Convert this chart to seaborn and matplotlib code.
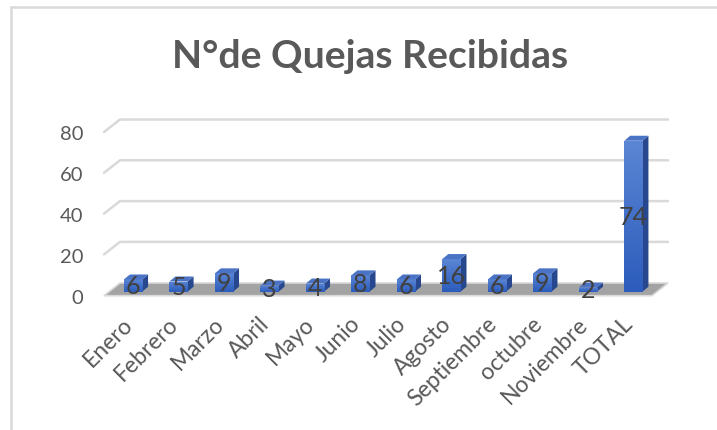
import numpy as np
import pandas as pd
import matplotlib
matplotlib.use("Agg")
import matplotlib.pyplot as plt
import matplotlib.transforms as mtransforms
from matplotlib.patches import Polygon
from matplotlib.lines import Line2D
import seaborn as sns

# ---- data ----
months = ["Enero", "Febrero", "Marzo", "Abril", "Mayo", "Junio", "Julio",
          "Agosto", "Septiembre", "octubre", "Noviembre", "TOTAL"]
quejas = [6, 5, 9, 3, 4, 8, 6, 16, 6, 9, 2, 74]
yticks = [0, 20, 40, 60, 80]
title = "N°de Quejas Recibidas"

sns.set_theme(style="white")
plt.rcParams["font.family"] = ["Lato", "DejaVu Sans"]

W, H = 717, 431
fig = plt.figure(figsize=(W / 100, H / 100), dpi=100)
fig.patch.set_facecolor("white")

# chart border (top and left visible)
fig.add_artist(Line2D([11 / W, 11 / W], [0, 1 - 8 / H], color="#d9d9d9", lw=1.8, transform=fig.transFigure))
fig.add_artist(Line2D([11 / W, 1], [1 - 8 / H, 1 - 8 / H], color="#d9d9d9", lw=1.8, transform=fig.transFigure))

ax_left, ax_right = 104, 652
ax_bottom, ax_top = 292.7, 129.5
ax = fig.add_axes([ax_left / W, (H - ax_bottom) / H, (ax_right - ax_left) / W, (ax_bottom - ax_top) / H])

df = pd.DataFrame({"mes": months, "quejas": quejas})
sns.barplot(data=df, x="mes", y="quejas", color="#3a66c4", saturation=1,
            width=0.4, ax=ax, zorder=5)
ax.set_xlim(-0.637, 11.41)
ax.set_ylim(0, 80)
for s in ax.spines.values():
    s.set_visible(False)
ax.set_xlabel("")
ax.set_ylabel("")
fig.canvas.draw()


def px2data(x, y, dx, dy):
    p = ax.transData.transform((x, y)) + np.array([dx, dy])
    return ax.transData.inverted().transform(p)


x0, x1 = ax.get_xlim()

# floor
floor = [px2data(x0, 0, 0, -4), px2data(x1, 0, 0, -4),
         px2data(x1, 0, 16, 8.7), px2data(x0, 0, 16, 8.7)]
ax.add_patch(Polygon(floor, closed=True, facecolor="#a3a3a3", edgecolor="#d9d9d9",
                     lw=1.2, zorder=1, clip_on=False))

# gridlines with perspective
for v in yticks[1:]:
    pts = [px2data(x0, v, 0, -3.5), px2data(x0, v, 16, 9), px2data(x1, v, 16, 9)]
    xs, ys = zip(*pts)
    ax.add_line(Line2D(xs, ys, color="#d9d9d9", lw=1.8, zorder=0, clip_on=False))

# 3D bars: gradient front face, top and side faces
grad = np.linspace(0, 1, 100).reshape(-1, 1)
cmap = matplotlib.colors.LinearSegmentedColormap.from_list("b", ["#2c5cbc", "#5b86d4"])
for patch, val in zip(ax.patches, quejas):
    bx, bw, bh = patch.get_x(), patch.get_width(), patch.get_height()
    patch.set_edgecolor("none")
    im = ax.imshow(grad, cmap=cmap, origin="lower", aspect="auto",
                   extent=(bx, bx + bw, 0, bh), zorder=6)
    im.set_clip_path(patch)
    top = [(bx, bh), (bx + bw, bh), px2data(bx + bw, bh, 6, 5), px2data(bx, bh, 6, 5)]
    side = [(bx + bw, 0), (bx + bw, bh), px2data(bx + bw, bh, 6, 5), px2data(bx + bw, 0, 6, 5)]
    ax.add_patch(Polygon(side, closed=True, facecolor="#27478e", edgecolor="none", zorder=4, clip_on=False))
    ax.add_patch(Polygon(top, closed=True, facecolor="#4a73c6", edgecolor="none", zorder=6, clip_on=False))
    ax.text(bx + bw / 2, bh / 2, str(val), ha="center", va="center",
            fontsize=18, color="#404040", zorder=8)
ax.set_xlim(x0, x1)
ax.set_ylim(0, 80)

# ticks
ax.set_yticks(yticks)
ax.set_yticklabels([str(t) for t in yticks], fontsize=14.5, color="#595959")
ax.tick_params(axis="y", length=0, pad=15)
for lbl in ax.get_yticklabels():
    lbl.set_transform(lbl.get_transform() + mtransforms.ScaledTranslation(0, -4 / 100, fig.dpi_scale_trans))

ax.set_xticks(range(len(months)))
ax.set_xticklabels(months, rotation=45, ha="right", rotation_mode="anchor",
                   fontsize=16.5, color="#595959")
ax.tick_params(axis="x", length=0, pad=15)
for lbl in ax.get_xticklabels():
    lbl.set_transform(lbl.get_transform() + mtransforms.ScaledTranslation(-11 / 100, 0, fig.dpi_scale_trans))

fig.text(370 / W, 1 - 57 / H, title, ha="center", va="center", fontsize=28.2,
         fontweight="bold", color="#595959")

fig.savefig("out.png", dpi=100)
